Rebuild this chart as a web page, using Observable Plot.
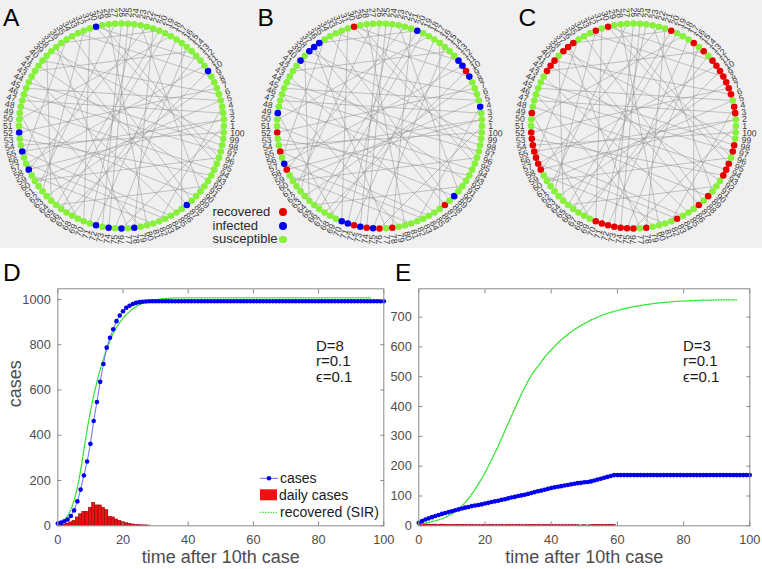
<!DOCTYPE html>
<html><head><meta charset="utf-8">
<script src="https://cdn.jsdelivr.net/npm/d3@7"></script>
<script src="https://cdn.jsdelivr.net/npm/@observablehq/plot@0.6"></script>
<style>
body{margin:0;background:#fff;}
#root{position:relative;width:762px;height:569px;overflow:hidden;font-family:"Liberation Sans",Arial,sans-serif;}
.abs{position:absolute;white-space:nowrap;line-height:1;}
</style></head><body>
<div id="root"><div style="position:absolute;left:0;top:0;width:762px;height:248px;background:#f0f0f0"></div></div>
<script>
// ---------- DATA ----------
const nodeIds = d3.range(1, 101);
const edges = [[3,47],[5,45],[5,60],[6,40],[7,52],[8,63],[9,33],[2,55],[4,82],[11,57],[12,30],[13,68],[14,42],[15,75],[16,86],[18,50],[19,66],[20,36],[21,78],[22,58],[23,90],[24,71],[26,73],[27,61],[28,80],[29,96],[30,95],[31,70],[32,62],[34,88],[35,56],[37,77],[38,99],[39,64],[41,92],[43,85],[44,98],[46,97],[48,94],[49,69],[51,89],[53,93],[54,100],[57,83],[59,81],[65,91],[67,10],[72,17],[74,25],[76,1],[79,46],[84,55],[87,37],[60,96],[58,2],[65,20]];
const infectedA = [10,30,52,55,58,72,74,76,78,87];
const recoveredA = [];
const infectedB = [4,9,11,12,20,36,37,38,40,49,57,70,71,73,75,89];
const recoveredB = [10,30,52,55,58,72,74,76,78,87];
const infectedC = [];
const recoveredC = [3,4,6,7,8,9,10,11,12,14,16,20,30,32,36,37,38,40,41,42,49,52,53,54,55,56,57,58,70,71,72,73,74,75,76,78,83,87,89,93,94,95,97,98];
const stateNames = ["recovered","infected","susceptible"];

const xTicks = [0,20,40,60,80,100];
const yTicksD = [0,200,400,600,800,1000];
const yTicksE = [0,100,200,300,400,500,600,700];

// D: cases at t = 0..100
const casesD = [10,14,20,28,43,68,108,160,222,284,362,463,547,636,715,787,831,868,904,929,948,963,972,980,985,988,990,991,992,
992,992,992,992,992,992,992,992,992,992,992,992,
992,992,992,992,992,992,992,992,992,992,992,992,
992,992,992,992,992,992,992,992,992,992,992,992,
992,992,992,992,992,992,992,992,992,992,992,992,
992,992,992,992,992,992,992,992,992,992,992,992,
992,992,992,992,992,992,992,992,992,992,992,992];
// D: recovered (SIR) at t = 0..96
const sirD = [10,16,26,44,72,112,170,245,335,425,505,575,635,690,738,780,818,850,876,898,917,933,946,958,968,976,983,989,993,997,999,1001,1003,1004,1005,1006,
1007,1007,1007,1007,1007,1007,1007,1007,1007,1007,1007,1007,
1007,1007,1007,1007,1007,1007,1007,1007,1007,1007,1007,1007,
1007,1007,1007,1007,1007,1007,1007,1007,1007,1007,1007,1007,
1007,1007,1007,1007,1007,1007,1007,1007,1007,1007,1007,1007,
1007,1007,1007,1007,1007,1007,1007,1007,1007,1007,1007,1007,1007];
// D: daily cases at t = 1..28
const dailyD = [6,6,10,15,22,37,51,62,62,80,101,90,90,80,69,40,37,28,22,16,12,9,6,4,3,2,2,1];

// E: cases at t = 0..100
const casesE = [10,16,21,25,29,33,36,40,43,46,49,52,55,58,61,63,66,68,70,72,75,77,80,82,84,87,89,92,95,97,
100,102,104,107,110,113,116,118,121,124,127,129,131,133,135,137,139,141,143,144,146,147,149,152,155,158,161,164,167,170,
170,170,170,170,170,170,170,170,170,170,170,170,170,170,170,170,170,170,170,170,
170,170,170,170,170,170,170,170,170,170,170,170,170,170,170,170,170,170,170,170,170];
// E: recovered (SIR) at t = 0,2,...,96
const sirE = [6,9,14,20,28,40,56,78,106,140,178,222,268,318,368,418,464,505,535,565,590,613,633,650,665,678,690,700,709,716,722,728,733,737,741,744,747,749,751,753,754,755,756,757,757,758,758,758,758];
// E: daily cases at t = 1..59
const dailyE = [6,5,4,4,4,3,4,3,3,3,3,3,3,3,2,3,2,2,2,3,2,3,2,2,3,2,3,3,2,3,2,2,3,3,3,3,2,3,3,3,2,2,2,2,2,2,2,2,1,2,1,2,3,3,3,3,3,3,3];

// ---------- STYLE ----------
const RED = "#e60000", BLUE = "#0000ee", GREEN_NODE = "#86f03a";
const root = document.getElementById("root");

function place(el, left, top) {
  const d = document.createElement("div");
  d.style.position = "absolute"; d.style.left = left + "px"; d.style.top = top + "px";
  d.appendChild(el); root.appendChild(d); return d;
}
function addText(txt, left, baseline, size, color) {
  const d = document.createElement("div");
  d.className = "abs"; d.textContent = txt;
  d.style.left = left + "px"; d.style.top = (baseline - 0.8465 * size) + "px";
  d.style.fontSize = size + "px"; d.style.color = color;
  root.appendChild(d); return d;
}

// ---------- NETWORKS ----------
const R = 102.5, W = 250, H = 248, OX = 125, OY = 125.5;
function network(recovered, infected) {
  const n = nodeIds.length;
  const nodes = nodeIds.map(id => {
    const a = (id - 1) / n * 2 * Math.PI;
    return {id, deg: (id - 1) * 360 / n, cx: Math.cos(a), cy: Math.sin(a),
      state: recovered.includes(id) ? "recovered" : infected.includes(id) ? "infected" : "susceptible"};
  });
  const byId = new Map(nodes.map(d => [d.id, d]));
  const rightSide = nodes.filter(d => d.deg < 90 || d.deg > 270);
  const leftSide = nodes.filter(d => !(d.deg < 90 || d.deg > 270));
  const lr = 1.062;
  return Plot.plot({
    width: W, height: H, margin: 0,
    x: {domain: [-OX / R, (W - OX) / R], axis: null},
    y: {domain: [-(H - OY) / R, OY / R], axis: null},
    color: {domain: stateNames, range: [RED, BLUE, GREEN_NODE]},
    style: {background: "transparent", overflow: "visible", fontFamily: "Liberation Sans, Arial, sans-serif"},
    marks: [
      Plot.link(edges, {x1: e => byId.get(e[0]).cx, y1: e => byId.get(e[0]).cy,
        x2: e => byId.get(e[1]).cx, y2: e => byId.get(e[1]).cy, stroke: "#8c8c8c", strokeWidth: 0.7, strokeOpacity: 0.7}),
      Plot.dot(nodes, {x: "cx", y: "cy", r: 3.3, fill: "state", stroke: null}),
      Plot.text(rightSide, {x: d => lr * d.cx, y: d => lr * d.cy, text: d => String(d.id), rotate: d => -d.deg,
        textAnchor: "start", fontSize: 8.7, fill: "#3a3a3a"}),
      Plot.text(leftSide, {x: d => lr * d.cx, y: d => lr * d.cy, text: d => String(d.id), rotate: d => 180 - d.deg,
        textAnchor: "end", fontSize: 8.7, fill: "#3a3a3a"})
    ]
  });
}
place(network(recoveredA, infectedA), 120.5 - OX, 0);
place(network(recoveredB, infectedB), 378.7 - OX, 0);
place(network(recoveredC, infectedC), 632.8 - OX, 0);

// legend for networks
const legColors = [RED, BLUE, GREEN_NODE];
const legBase = [216, 230, 243.5], legDotY = [212, 226, 239.5];
stateNames.forEach((s, i) => {
  addText(s, 212.5, legBase[i], 13, "#2a2a2a");
  const dot = document.createElement("div");
  dot.style.cssText = `position:absolute;left:${283 - 3.9}px;top:${legDotY[i] - 3.9}px;width:7.8px;height:7.8px;border-radius:50%;background:${legColors[i]}`;
  root.appendChild(dot);
});

// ---------- TIME SERIES ----------
const AX = "#8a8a8a";
const noText = () => "";
function series(values, t0, step) { return values.map((v, i) => ({t: t0 + i * step, v})); }
function chart({width, mL, mR, yMax, yTicks, cases, sir, sirStep, daily, yLabel}) {
  const c = series(cases, 0, 1), s = series(sir, 0, sirStep), dly = series(daily, 1, 1);
  return Plot.plot({
    width, height: 319, marginLeft: mL, marginRight: mR, marginTop: 38.3, marginBottom: 43.7,
    x: {domain: [0, 100]}, y: {domain: [0, yMax]},
    style: {background: "transparent", overflow: "visible", fontFamily: "Liberation Sans, Arial, sans-serif", fontSize: "12.8px", color: "#4d4d4d"},
    marks: [
      Plot.rect(dly, {x1: d => d.t - 0.5, x2: d => d.t + 0.5, y1: 0, y2: "v", fill: "#ee1111", stroke: "#7a0000", strokeWidth: 0.5}),
      Plot.line(s, {x: "t", y: "v", stroke: "#1ee01e", strokeWidth: 1.3, strokeDasharray: "1.2 1.4", curve: "monotone-x"}),
      Plot.line(c, {x: "t", y: "v", stroke: "#6b6bff", strokeWidth: 1}),
      Plot.dot(c, {x: "t", y: "v", r: 2.3, fill: BLUE, stroke: null}),
      Plot.frame({stroke: AX}),
      Plot.axisX({anchor: "bottom", ticks: xTicks, tickSize: -4, tickPadding: 12.7, tickFormat: d3.format("d"), label: null, stroke: AX}),
      Plot.axisX({anchor: "top", ticks: xTicks, tickSize: -4, tickFormat: noText, label: null, stroke: AX}),
      Plot.axisY({anchor: "left", ticks: yTicks, tickSize: -4, tickPadding: 11, tickFormat: d3.format("d"), label: null, stroke: AX}),
      Plot.axisY({anchor: "right", ticks: yTicks, tickSize: -4, tickFormat: noText, label: null, stroke: AX}),
      Plot.text(["time after 10th case"], {text: d => d, frameAnchor: "bottom", dy: 37, fontSize: 18, fill: "#4d4d4d"}),
      yLabel ? Plot.text([yLabel], {text: d => d, frameAnchor: "left", dx: -42.8, rotate: -90, fontSize: 18, fill: "#4d4d4d"}) : null
    ]
  });
}
place(chart({width: 390, mL: 57.3, mR: 6.7, yMax: 1047, yTicks: yTicksD, cases: casesD, sir: sirD, sirStep: 1, daily: dailyD, yLabel: "cases"}), 0, 250);
place(chart({width: 372, mL: 28.3, mR: 12.7, yMax: 795, yTicks: yTicksE, cases: casesE, sir: sirE, sirStep: 2, daily: dailyE, yLabel: null}), 390, 250);

// annotations
[["D=8", 316], ["D=3", 683]].forEach(([t, x]) => {
  addText(t, x, 350.5, 15, "#1a1a1a");
  addText("r=0.1", x, 366, 15, "#1a1a1a");
  addText("ϵ=0.1", x, 382, 15, "#1a1a1a");
});

// legend of D
const leg = document.createElement("div");
leg.style.cssText = "position:absolute;left:258px;top:468px;";
leg.innerHTML = `<svg width="24" height="54" style="overflow:visible">
<line x1="2" x2="20" y1="10.3" y2="10.3" stroke="#6b6bff" stroke-width="1"/><circle cx="11" cy="10.3" r="2.3" fill="${BLUE}"/>
<rect x="2" y="21.3" width="17" height="11" fill="#ee1111"/>
<line x1="2" x2="20" y1="44.3" y2="44.3" stroke="#1ee01e" stroke-width="1.3" stroke-dasharray="1.2 1.4"/></svg>`;
root.appendChild(leg);
addText("cases", 280, 483, 14, "#1a1a1a");
addText("daily cases", 279, 499.5, 14, "#1a1a1a");
addText("recovered (SIR)", 280, 516.5, 14, "#1a1a1a");

// panel letters
[["A", 3, 26.7], ["B", 257.5, 26.7], ["C", 518.5, 26.7], ["D", 3, 281.7], ["E", 395, 281.7]].forEach(([t, x, b]) => addText(t, x, b, 24.5, "#000"));
</script></body></html>
